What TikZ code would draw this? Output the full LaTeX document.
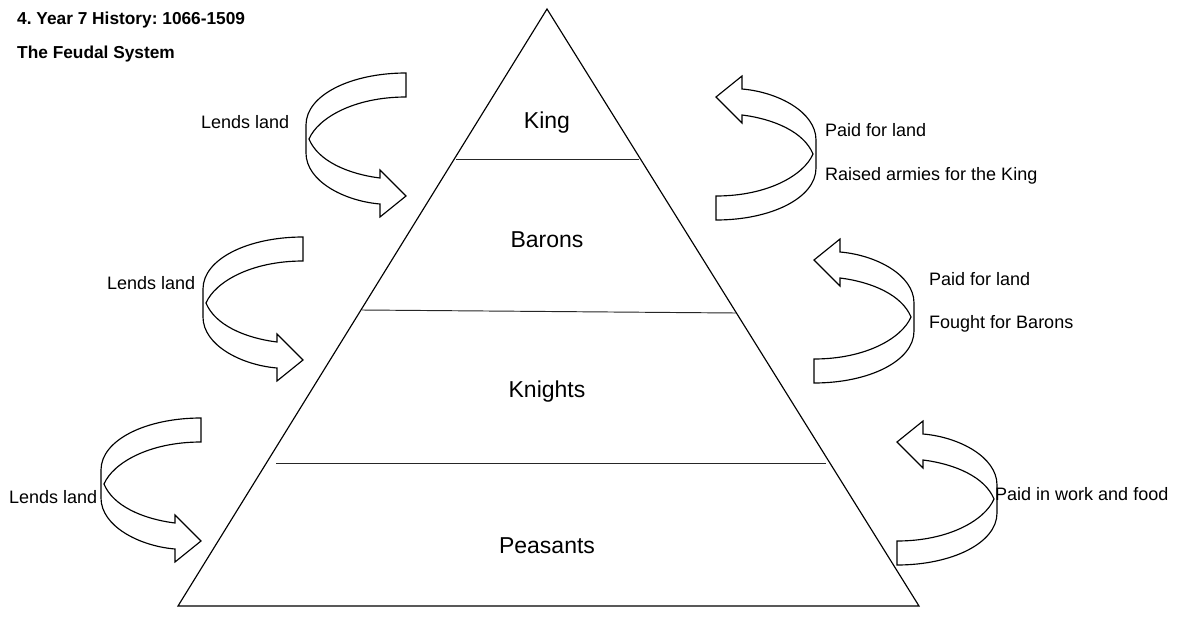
\documentclass[tikz,border=0pt]{standalone}
\usepackage{fontspec}
\setmainfont{Liberation Sans}
\frenchspacing
\begin{document}
\begin{tikzpicture}[x=1pt,y=-1pt]
\tikzset{
  lbl/.style={font=\fontsize{18}{20}\selectfont, inner sep=0pt, anchor=base west},
  tier/.style={font=\fontsize{23}{26}\selectfont, inner sep=0pt, anchor=base},
  ttl/.style={font=\bfseries\fontsize{17.3}{20}\selectfont, inner sep=0pt, anchor=base west},
  outline/.style={draw=black, line width=1.15pt, line join=miter},
  divider/.style={draw=black!85, line width=0.95pt},
  % ribbon arrow curling round to the right; origin at the top right of its tail
  curvedarrow/.pic={
    \draw[outline, fill=white]
      (0,0) .. controls (-55,0) and (-100,22) .. (-100,52)
      -- (-100,80) .. controls (-100,108) and (-62,128) .. (-26,131)
      -- (-26,144) -- (0,123) -- (-26,97) -- (-26,105)
      .. controls (-58,101) and (-88,88) .. (-97,66)
      .. controls (-88,45) and (-52,24) .. (0,24) -- cycle;
  }
}
\fill[white] (0,0) rectangle (1189,616);
\useasboundingbox (0,0) rectangle (1189,616);

% heading
\node[ttl] (title) at (17,24) {4. Year 7 History: 1066-1509};
\node[ttl] (subtitle) at (17,58) {The Feudal System};

% pyramid
\coordinate (apex) at (547,9);
\coordinate (bl) at (178,606);
\coordinate (br) at (919,606);
\draw[outline] (apex) -- (bl) -- (br) -- cycle;
\coordinate (d1l) at (456,159); \coordinate (d1r) at (639,159);
\coordinate (d2l) at (362,310); \coordinate (d2r) at (736,313);
\coordinate (d3l) at (276,463); \coordinate (d3r) at (826,463);
\draw[divider] (d1l) -- (d1r);
\draw[divider] (d2l) -- (d2r);
\draw[divider] (d3l) -- (d3r);

\node[tier] (king) at (547,128) {King};
\node[tier] (barons) at (547,247) {Barons};
\node[tier] (knights) at (547,397) {Knights};
\node[tier] (peasants) at (547,553) {Peasants};

% arrows going down the left side
\pic at (406,73) {curvedarrow};
\pic at (303,237) {curvedarrow};
\pic at (201,418) {curvedarrow};

% arrows going up the right side
\pic[rotate=180] at (716,220) {curvedarrow};
\pic[rotate=180] at (814,383) {curvedarrow};
\pic[rotate=180] at (897,565) {curvedarrow};

% labels
\node[lbl] (lend1) at (201,128.5) {Lends land};
\node[lbl] (lend2) at (107,289.5) {Lends land};
\node[lbl] (lend3) at (9,503.5) {Lends land};
\node[lbl] (paid1) at (825,136.5) {Paid for land};
\node[lbl] (raised) at (825,180.5) {Raised armies for the King};
\node[lbl] (paid2) at (929,285.5) {Paid for land};
\node[lbl] (fought) at (929,328.5) {Fought for Barons};
\node[lbl] (paid3) at (995,500.5) {Paid in work and food};
\end{tikzpicture}
\end{document}
